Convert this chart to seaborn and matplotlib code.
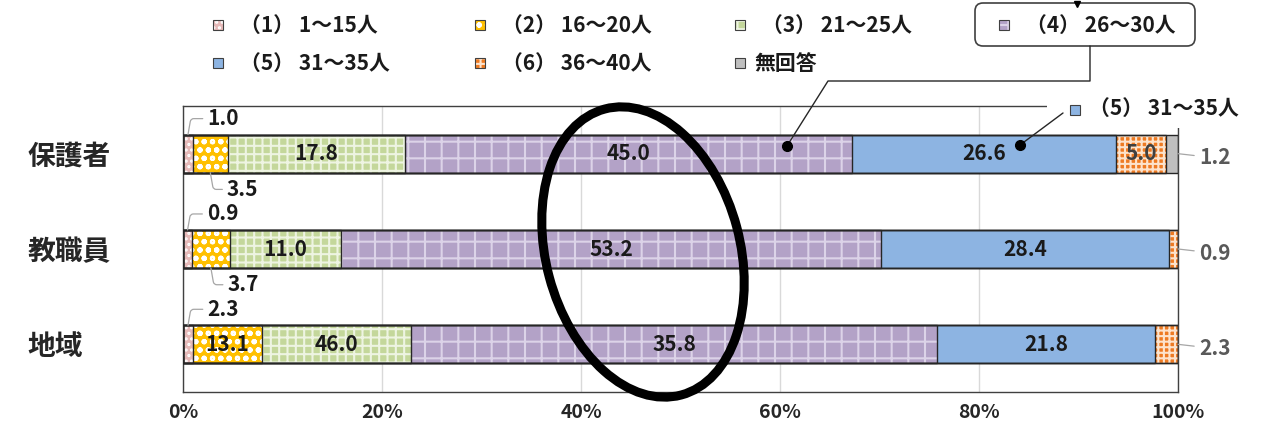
import numpy as np
import matplotlib
matplotlib.use("Agg")
import matplotlib.pyplot as plt
import seaborn as sns
from matplotlib.patches import Rectangle, Ellipse, FancyBboxPatch
from matplotlib.lines import Line2D
from matplotlib.transforms import IdentityTransform

# データ
groups = ["保護者", "教職員", "地域"]
categories = ["（1） 1～15人", "（2） 16～20人", "（3） 21～25人", "（4） 26～30人",
              "（5） 31～35人", "（6） 36～40人", "無回答"]
hogosha = [1.0, 3.5, 17.8, 45.0, 26.6, 5.0, 1.2]
kyoshokuin = [0.9, 3.7, 11.0, 53.2, 28.4, 0.9, 0.0]
chiiki = [1.0, 6.9, 15.0, 52.9, 21.9, 2.3, 0.0]   # bar lengths as drawn
# labels as printed on the chart (地域 labels differ from bar lengths in the original)
hogosha_labels = ["1.0", "3.5", "17.8", "45.0", "26.6", "5.0", "1.2"]
kyoshokuin_labels = ["0.9", "3.7", "11.0", "53.2", "28.4", "0.9", ""]
chiiki_labels = ["2.3", "13.1", "46.0", "35.8", "21.8", "2.3", ""]
xtick_labels = ["0%", "20%", "40%", "60%", "80%", "100%"]

colors = ["#e6b9b8", "#ffc000", "#c4d79b", "#b3a2c7", "#8db4e2", "#ee7a22", "#bfbfbf"]
hatches = ["...", "oo", "++", "+", None, "+++", None]
hatch_colors = ["white", "white", "#eef4e2", "#dcd3e8", None, "#fde3cc", None]
EDGE = "#262626"

sns.set_style("white")
plt.rcParams["font.family"] = ["Noto Sans CJK JP", "DejaVu Sans"]
plt.rcParams["hatch.linewidth"] = 1.5

values = np.array([hogosha, kyoshokuin, chiiki])
labels = [hogosha_labels, kyoshokuin_labels, chiiki_labels]
share = values / values.sum(axis=1, keepdims=True) * 100
cum = share.cumsum(axis=1)

W, H = 1265, 430
fig = plt.figure(figsize=(W / 100, H / 100), dpi=100)
ax = fig.add_axes([183 / W, 1 - 392 / H, (1178 - 183) / W, (392 - 106) / H])


def style_patch(p, k):
    # hatch colour comes from the edge colour, so the border goes on a separate patch
    if hatches[k]:
        p.set_hatch(hatches[k])
        p.set_edgecolor(hatch_colors[k])
    else:
        p.set_edgecolor(colors[k])
    p.set_linewidth(0)


# 積み上げ棒（右端の累積から順に重ねる）
borders = []
for k in reversed(range(len(categories))):
    sns.barplot(x=cum[:, k], y=groups, orient="h", color=colors[k], saturation=1,
                width=0.4, errorbar=None, ax=ax)
    for p in ax.containers[-1]:
        style_patch(p, k)
        borders.append((p.get_x(), p.get_y(), p.get_width(), p.get_height()))
for (x0, y0, w, h) in borders:
    ax.add_patch(Rectangle((x0, y0), w, h, fill=False, edgecolor=EDGE, lw=1, zorder=5))

ax.set_xlim(0, 100)
ax.set_ylim(2.5, -0.5)
ax.set_xticks(range(0, 101, 20))
ax.set_xticklabels(xtick_labels, fontsize=14, fontweight="bold")
ax.set_yticks(range(len(groups)))
ax.set_yticklabels(groups, fontsize=20, fontweight="bold", ha="left")
ax.tick_params(axis="y", length=0, pad=112)
ax.tick_params(axis="x", length=0, pad=8)
ax.set_xlabel("")
ax.set_ylabel("")
ax.set_axisbelow(True)
ax.grid(axis="x", color="#d9d9d9", lw=1)
for s in ax.spines.values():
    s.set_color("#404040")
    s.set_linewidth(1)

# 数値ラベル
lead = dict(arrowstyle="-", color="#a6a6a6", lw=0.9, shrinkA=1, shrinkB=0)
for i in range(len(groups)):
    for k in range(len(categories)):
        s = labels[i][k]
        if not s:
            continue
        xm = cum[i, k] - share[i, k] / 2
        if share[i, k] >= 4.5:
            ax.text(xm, i, s, ha="center", va="center", fontsize=15, fontweight="bold",
                    color="#404040" if k == 5 else "#1a1a1a", zorder=6)
        elif k == 0:
            ax.annotate(s, xy=(xm, i - 0.2), xytext=(14, 11.5), textcoords="offset points",
                        ha="left", va="center", fontsize=15, fontweight="bold", color="#1a1a1a",
                        arrowprops=dict(lead, connectionstyle="angle,angleA=0,angleB=80,rad=3"),
                        zorder=6)
        elif k == 1:
            ax.annotate(s, xy=(xm, i + 0.2), xytext=(12, -12), textcoords="offset points",
                        ha="left", va="center", fontsize=15, fontweight="bold", color="#1a1a1a",
                        arrowprops=dict(lead, connectionstyle="angle,angleA=0,angleB=-80,rad=3"),
                        zorder=6)
        else:
            ax.annotate(s, xy=(100, i), xytext=(15, -3), textcoords="offset points",
                        ha="left", va="center", fontsize=15, fontweight="bold", color="#595959",
                        arrowprops=lead, zorder=6)


def px(x, y):
    return x / W, 1 - y / H


def swatch(x, y, k, size=10):
    r = Rectangle((x - size / 2, H - y - size / 2), size, size, facecolor=colors[k],
                  transform=IdentityTransform(), zorder=3)
    style_patch(r, k)
    fig.add_artist(r)
    fig.add_artist(Rectangle((x - size / 2, H - y - size / 2), size, size, fill=False,
                             edgecolor="#404040", lw=0.8, transform=IdentityTransform(), zorder=3))


def line(points, **kw):
    xs, ys = zip(*[px(a, b) for a, b in points])
    fig.add_artist(Line2D(xs, ys, transform=fig.transFigure, **kw))


# 凡例
legend_pos = [(218, 25), (480, 25), (740, 25), (1004, 25), (218, 63), (480, 63), (740, 63)]
for k, (lx, ly) in enumerate(legend_pos):
    swatch(lx, ly, k)
    fig.text(*px(lx + 22 if k != 6 else lx + 14, ly), categories[k], ha="left", va="center",
             fontsize=15, fontweight="bold", color="#1a1a1a")

# （4）の枠と引き出し線
fig.add_artist(FancyBboxPatch((975, H - 46), 220, 43, boxstyle="round,pad=0,rounding_size=8",
                              facecolor="none", edgecolor="#404040", lw=1.2,
                              transform=IdentityTransform(), zorder=2))
line([(1077, 4)], marker="v", ms=5, color="black", zorder=4)
line([(1090, 46), (1090, 81), (828, 81), (787, 146)], color=EDGE, lw=1, zorder=4)
line([(787, 146)], marker="o", ms=7, color="black", zorder=4)

# （5）の吹き出し
fig.add_artist(Rectangle((1047, H - 128), 210, 36, facecolor="white", edgecolor="none",
                         transform=IdentityTransform(), zorder=2))
swatch(1075, 110, 4)
fig.text(*px(1089, 108), categories[4], ha="left", va="center", fontsize=15,
         fontweight="bold", color="#1a1a1a", zorder=4)
line([(1063, 113), (1020, 145)], color=EDGE, lw=1, zorder=4)
line([(1020, 145)], marker="o", ms=7, color="black", zorder=4)

# 強調の楕円
fig.add_artist(Ellipse((643, H - 252), 194, 296, angle=15, fill=False, edgecolor="black",
                       lw=6.5, transform=IdentityTransform(), zorder=5))

fig.savefig("out.png", dpi=100)
